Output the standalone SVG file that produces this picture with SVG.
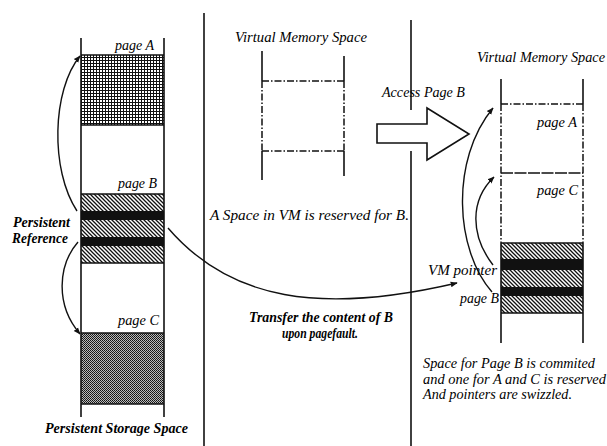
<svg xmlns="http://www.w3.org/2000/svg" width="607" height="446" viewBox="0 0 607 446">
<style>
  .t { font-family: "Liberation Serif", "Times New Roman", serif; font-style: italic; font-size: 14px; fill: #000; }
  .tb { font-family: "Liberation Serif", "Times New Roman", serif; font-style: italic; font-weight: bold; font-size: 14px; fill: #000; }
  .ln { stroke: #111; stroke-width: 1.6; fill: none; }
  .dd { stroke: #111; stroke-width: 1.5; fill: none; stroke-dasharray: 7 2 1.5 2; }
  .cv { stroke: #111; stroke-width: 1.4; fill: none; }
  .blk { fill: #111; }
</style>
<defs>
  <pattern id="grid" width="3" height="3" patternUnits="userSpaceOnUse">
    <rect width="3" height="3" fill="#fff"/>
    <rect x="0" y="0" width="3" height="1" fill="#111"/>
    <rect x="0" y="0" width="1" height="3" fill="#111"/>
  </pattern>
  <pattern id="hatch" width="4" height="4" patternUnits="userSpaceOnUse">
    <rect width="4" height="4" fill="#fff"/>
    <path d="M-1,-1 L5,5 M-1,3 L1,5 M3,-1 L5,1" stroke="#111" stroke-width="1.3"/>
  </pattern>
  <pattern id="stip" width="2" height="2" patternUnits="userSpaceOnUse">
    <rect width="2" height="2" fill="#bbb"/>
    <rect x="0" y="0" width="1" height="1" fill="#111"/>
    <rect x="1" y="1" width="1" height="1" fill="#222"/>
  </pattern>
  <marker id="ah" viewBox="0 0 10 10" refX="9" refY="5" markerWidth="7" markerHeight="7" orient="auto" markerUnits="userSpaceOnUse">
    <path d="M0,1 L10,5 L0,9 Z" fill="#111"/>
  </marker>
</defs>
<rect width="607" height="446" fill="#fff"/>

<g id="dividers">
  <line class="ln" x1="204" y1="13" x2="204" y2="446"/>
  <line class="ln" x1="411" y1="20" x2="411" y2="110"/>
  <line class="ln" x1="411" y1="151" x2="411" y2="446"/>
</g>

<g id="persistent-storage">
  <rect x="81" y="55" width="83" height="70" fill="url(#grid)"/>
  <rect x="81" y="194" width="83" height="17" fill="url(#hatch)"/>
  <rect x="81" y="211" width="83" height="9" class="blk"/>
  <rect x="81" y="220" width="83" height="17" fill="url(#hatch)"/>
  <rect x="81" y="237" width="83" height="9" class="blk"/>
  <rect x="81" y="246" width="83" height="17" fill="url(#hatch)"/>
  <rect x="81" y="333" width="83" height="71" fill="url(#stip)"/>
  <line class="ln" x1="81" y1="55" x2="164" y2="55"/>
  <line class="ln" x1="81" y1="125" x2="164" y2="125"/>
  <line class="ln" x1="81" y1="194" x2="164" y2="194"/>
  <line class="ln" x1="81" y1="263" x2="164" y2="263"/>
  <line class="ln" x1="81" y1="333" x2="164" y2="333"/>
  <line class="ln" x1="81" y1="404" x2="164" y2="404"/>
  <line class="ln" x1="81" y1="38" x2="81" y2="417"/>
  <line class="ln" x1="164" y1="38" x2="164" y2="417"/>
  <text class="t" x="115" y="50" textLength="39" lengthAdjust="spacingAndGlyphs">page A</text>
  <text class="t" x="118" y="188" textLength="39" lengthAdjust="spacingAndGlyphs">page B</text>
  <text class="t" x="118" y="325" textLength="41" lengthAdjust="spacingAndGlyphs">page C</text>
  <text class="tb" x="13" y="227" textLength="57" lengthAdjust="spacingAndGlyphs">Persistent</text>
  <text class="tb" x="12" y="243" textLength="56" lengthAdjust="spacingAndGlyphs">Reference</text>
  <text class="tb" x="45" y="433" textLength="143" lengthAdjust="spacingAndGlyphs">Persistent Storage Space</text>
</g>

<g id="vm-reserved">
  <text class="t" x="235" y="42" textLength="132" lengthAdjust="spacingAndGlyphs">Virtual Memory Space</text>
  <line class="ln" x1="262" y1="51" x2="262" y2="81"/>
  <line class="ln" x1="344" y1="56" x2="344" y2="81"/>
  <line class="dd" x1="262" y1="81" x2="344" y2="81"/>
  <line class="dd" x1="262" y1="81" x2="262" y2="151"/>
  <line class="dd" x1="344" y1="81" x2="344" y2="151"/>
  <line class="dd" x1="262" y1="151" x2="344" y2="151"/>
  <line class="ln" x1="262" y1="151" x2="262" y2="180"/>
  <line class="ln" x1="344" y1="151" x2="344" y2="176"/>
  <text class="t" x="210" y="220" textLength="199" lengthAdjust="spacingAndGlyphs">A Space in VM is reserved for B.</text>
  <text class="tb" x="249" y="322" textLength="144" lengthAdjust="spacingAndGlyphs">Transfer the content of B</text>
  <text class="tb" x="282" y="338" textLength="76" lengthAdjust="spacingAndGlyphs" style="font-size:14px">upon pagefault.</text>
</g>

<g id="access-arrow">
  <path d="M377,124 L427,124 L427,108 L469,134 L427,160 L427,143 L377,143 Z" fill="#fff" stroke="#111" stroke-width="1.6" stroke-linejoin="miter"/>
  <text class="t" x="382" y="97" textLength="83" lengthAdjust="spacingAndGlyphs">Access Page B</text>
</g>

<g id="vm-committed">
  <text class="t" x="477" y="62" textLength="128" lengthAdjust="spacingAndGlyphs">Virtual Memory Space</text>
  <line class="ln" x1="501" y1="79" x2="501" y2="104"/>
  <line class="ln" x1="583" y1="79" x2="583" y2="104"/>
  <line class="dd" x1="501" y1="104" x2="583" y2="104"/>
  <line class="dd" x1="501" y1="104" x2="501" y2="243"/>
  <line class="dd" x1="583" y1="104" x2="583" y2="243"/>
  <line class="ln" x1="501" y1="173" x2="583" y2="173" style="stroke-dasharray: 12 1.5"/>
  <rect x="501" y="243" width="82" height="16" fill="url(#hatch)"/>
  <rect x="501" y="259" width="82" height="11" class="blk"/>
  <rect x="501" y="270" width="82" height="17" fill="url(#hatch)"/>
  <rect x="501" y="287" width="82" height="9" class="blk"/>
  <rect x="501" y="296" width="82" height="17" fill="url(#hatch)"/>
  <line class="ln" x1="501" y1="243" x2="583" y2="243"/>
  <line class="ln" x1="501" y1="313" x2="583" y2="313"/>
  <line class="ln" x1="501" y1="243" x2="501" y2="343"/>
  <line class="ln" x1="583" y1="243" x2="583" y2="343"/>
  <text class="t" x="537" y="127" textLength="40" lengthAdjust="spacingAndGlyphs">page A</text>
  <text class="t" x="537" y="195" textLength="41" lengthAdjust="spacingAndGlyphs">page C</text>
  <text class="t" x="428" y="275" textLength="69" lengthAdjust="spacingAndGlyphs">VM pointer</text>
  <text class="t" x="460" y="303" textLength="39" lengthAdjust="spacingAndGlyphs">page B</text>
  <text class="t" x="423" y="368" textLength="172" lengthAdjust="spacingAndGlyphs">Space for Page B is commited</text>
  <text class="t" x="423" y="384" textLength="183" lengthAdjust="spacingAndGlyphs">and one for A and C is reserved</text>
  <text class="t" x="423" y="399" textLength="149" lengthAdjust="spacingAndGlyphs">And pointers are swizzled.</text>
</g>

<g id="connectors">
  <path class="cv" d="M77,211 C50,170 52,90 80,56" marker-end="url(#ah)"/>
  <path class="cv" d="M78,242 C58,265 55,305 80,334" marker-end="url(#ah)"/>
  <path class="cv" d="M168,228 C230,300 320,315 457,283" marker-end="url(#ah)"/>
  <path class="cv" d="M492,292 C455,250 450,160 493,108" marker-end="url(#ah)"/>
  <path class="cv" d="M493,265 C470,235 470,200 494,177" marker-end="url(#ah)"/>
</g>
</svg>
